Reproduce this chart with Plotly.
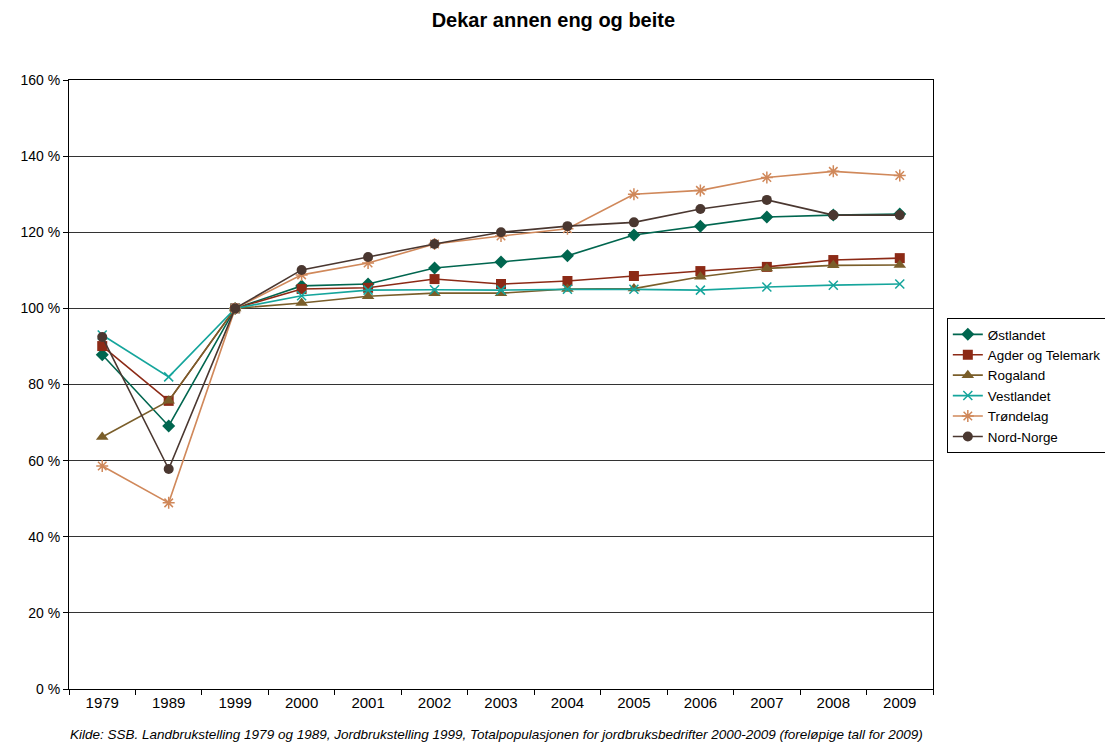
import plotly.graph_objects as go

years = ["1979", "1989", "1999", "2000", "2001", "2002", "2003", "2004", "2005", "2006", "2007", "2008", "2009"]

ostlandet = [87.8, 69.1, 100, 105.9, 106.4, 110.6, 112.2, 113.8, 119.3, 121.6, 124.0, 124.5, 124.8]
agder = [90.1, 75.7, 100, 105.1, 105.4, 107.7, 106.4, 107.2, 108.5, 109.8, 110.9, 112.7, 113.2]
rogaland = [66.2, 75.7, 100, 101.4, 103.2, 104.0, 104.0, 105.1, 105.2, 108.3, 110.5, 111.3, 111.4]
vestlandet = [93.0, 82.0, 100, 103.3, 104.8, 104.9, 104.8, 105.0, 105.0, 104.8, 105.6, 106.1, 106.4]
trondelag = [58.6, 48.9, 100, 108.8, 111.9, 116.9, 119.0, 120.9, 130.0, 131.0, 134.4, 136.0, 134.9]
nordnorge = [92.5, 57.8, 100, 110.1, 113.5, 116.9, 120.0, 121.6, 122.6, 126.1, 128.5, 124.5, 124.5]

series = [
    ("Østlandet", ostlandet, "#00664F", "diamond", 10),
    ("Agder og Telemark", agder, "#8C2A16", "square", 10),
    ("Rogaland", rogaland, "#7A5E2A", "triangle-up", 11),
    ("Vestlandet", vestlandet, "#15A59C", "x-thin", 9),
    ("Trøndelag", trondelag, "#D0885A", "asterisk", 10),
    ("Nord-Norge", nordnorge, "#4A3730", "circle", 10),
]

fig = go.Figure()
for name, vals, color, sym, size in series:
    thin = sym in ("x-thin", "asterisk")
    fig.add_trace(go.Scatter(
        x=years, y=vals, name=name, mode="lines+markers",
        line=dict(color=color, width=1.6),
        marker=dict(symbol=sym, size=size, color=color,
                    line=dict(color=color, width=1.5 if thin else 0)),
    ))

fig.update_layout(
    width=1113, height=734,
    margin=dict(l=55, r=188, t=72, b=53),
    paper_bgcolor="white", plot_bgcolor="white",
    font=dict(family="Liberation Sans, Arial, sans-serif", size=14, color="black"),
    title=dict(text="<b>Dekar annen eng og beite</b>", x=0.49, xanchor="center",
               y=0.984, yanchor="middle", font=dict(size=20)),
    showlegend=True,
    legend=dict(x=1.016, y=0.609, xanchor="left", yanchor="top",
                bordercolor="black", borderwidth=1, bgcolor="white",
                font=dict(size=13.4), tracegroupgap=0, itemwidth=30),
    xaxis=dict(type="category", range=[-0.5, 12.5], showline=True, linecolor="black",
               linewidth=1, mirror=True,
               ticks="outside", tickson="boundaries", ticklen=5, tickcolor="black",
               showgrid=False, tickfont=dict(size=15)),
    yaxis=dict(range=[0, 160], dtick=20, ticksuffix=" %", showline=True, linecolor="black",
               linewidth=1, mirror=True, ticks="outside", ticklen=5, tickcolor="black",
               showgrid=True, gridcolor="#333333", gridwidth=1, zeroline=False,
               tickfont=dict(size=14)),
    annotations=[dict(
        text="<i>Kilde: SSB. Landbrukstelling 1979 og 1989, Jordbrukstelling 1999, Totalpopulasjonen for jordbruksbedrifter 2000-2009 (foreløpige tall for 2009)</i>",
        xref="paper", yref="paper", x=0.4945, y=-0.0755, xanchor="center", yanchor="middle",
        showarrow=False, font=dict(size=13.5))],
)

fig.write_html("out.html")
